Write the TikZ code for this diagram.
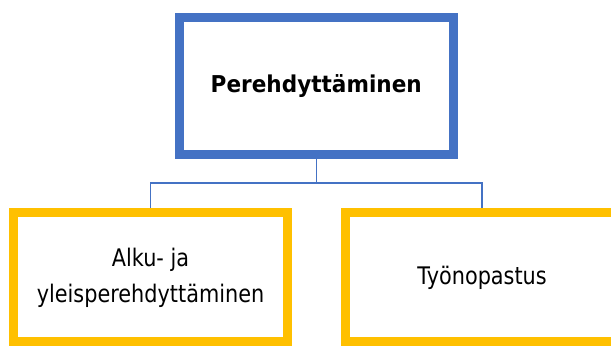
\documentclass[tikz,border=0pt]{standalone}
\usepackage{fontspec}
\setmainfont{DejaVu Sans}
\newfontfamily\titlefont[FakeStretch=0.93]{DejaVu Sans}
\newfontfamily\itemfont[FakeStretch=0.86]{DejaVu Sans}
\usetikzlibrary{positioning}
\definecolor{boxblue}{HTML}{4472C4}
\definecolor{boxgold}{HTML}{FFC000}
\tikzset{mainbox/.style={draw=boxblue,line width=9pt,rectangle,fill=white,
           minimum width=273.5pt,minimum height=137pt,inner sep=0pt,
           font=\titlefont\bfseries\fontsize{23.2}{28}\selectfont},
         subbox/.style={draw=boxgold,line width=9pt,rectangle,fill=white,
           minimum width=274pt,minimum height=129pt,inner sep=0pt,
           align=center,font=\itemfont\fontsize{24.2}{36}\selectfont},
         link/.style={draw=boxblue,line width=1.2pt}}

\begin{document}
\begin{tikzpicture}[x=1pt,y=1pt]
  \useasboundingbox (0,0) rectangle (611,-347);
  \node[mainbox] (intro) at (316.25,-86) {Perehdyttäminen};
  \node[subbox] (general) at (150.5,-277.5) {Alku- ja\\yleisperehdyttäminen};
  \node[subbox] (guidance) at (482,-277.5) {Työnopastus};
  % elbow connectors
  \coordinate[below=24pt of intro.south] (split);
  \draw[link] (intro.south) -- (split) -| (general.north);
  \draw[link] (split) -| (guidance.north);
\end{tikzpicture}
\end{document}
